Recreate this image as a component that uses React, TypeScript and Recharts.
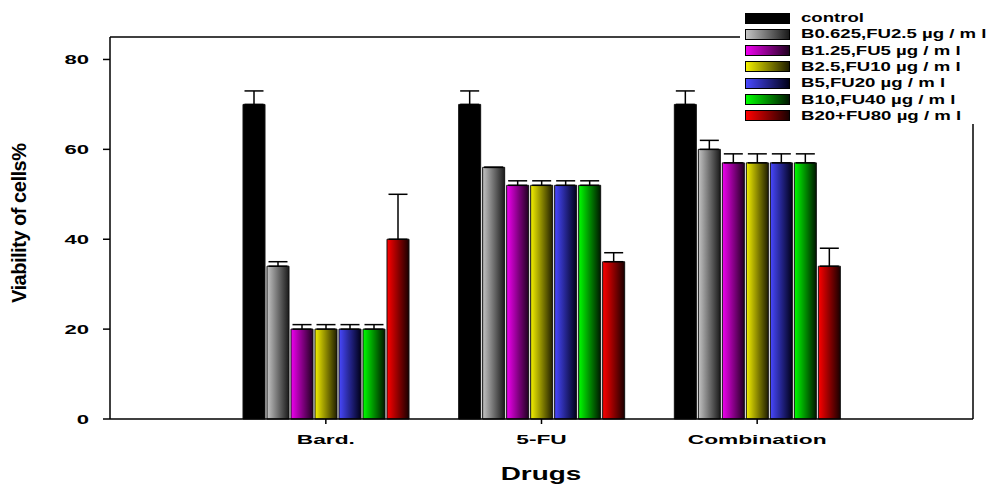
import React from "react";
import { BarChart, Bar, XAxis, YAxis, ErrorBar, Legend } from "recharts";

const categories = ["Bard.", "5-FU", "Combination"];

const control = [70, 70, 70];
const controlErr = [3, 3, 3];
const b0625 = [34, 56, 60];
const b0625Err = [1, 0, 2];
const b125 = [20, 52, 57];
const b125Err = [1, 1, 2];
const b25 = [20, 52, 57];
const b25Err = [1, 1, 2];
const b5 = [20, 52, 57];
const b5Err = [1, 1, 2];
const b10 = [20, 52, 57];
const b10Err = [1, 1, 2];
const b20 = [40, 35, 34];
const b20Err = [10, 2, 4];

const yTicks = [0, 20, 40, 60, 80];

const series = [
    { key: "control", name: "control", values: control, errors: controlErr, from: "#000000", to: "#000000" },
    { key: "b0625", name: "B0.625,FU2.5 \u00b5g / m l", values: b0625, errors: b0625Err, from: "#c4c4c4", to: "#1a1a1a" },
    { key: "b125", name: "B1.25,FU5 \u00b5g / m l", values: b125, errors: b125Err, from: "#f000f0", to: "#200020" },
    { key: "b25", name: "B2.5,FU10 \u00b5g / m l", values: b25, errors: b25Err, from: "#f4f000", to: "#201e00" },
    { key: "b5", name: "B5,FU20 \u00b5g / m l", values: b5, errors: b5Err, from: "#4848ff", to: "#000018" },
    { key: "b10", name: "B10,FU40 \u00b5g / m l", values: b10, errors: b10Err, from: "#00ff00", to: "#001800" },
    { key: "b20", name: "B20+FU80 \u00b5g / m l", values: b20, errors: b20Err, from: "#ff0000", to: "#1a0000" },
];

const data = categories.map((name, i) => {
    const row: any = { name };
    series.forEach((s) => {
        row[s.key] = s.values[i];
        row[s.key + "Err"] = [0, s.errors[i]];
    });
    return row;
});

const FONT = "'Liberation Sans', Arial, sans-serif";

// y tick labels end at x=89, right of them the 7px tick mark
const YTick = ({ y, payload }: any) => (
    <g transform={`translate(89,${y})`}>
        <text x={0} y={0} dy={5} textAnchor="end" fontFamily={FONT} fontWeight="bold" fontSize={13} fill="#000" transform="scale(1.7,1)">
            {payload.value}
        </text>
    </g>
);

const XTick = ({ x, y, payload }: any) => (
    <g transform={`translate(${x},${y})`}>
        <text x={0} y={0} dy={18} textAnchor="middle" fontFamily={FONT} fontWeight="bold" fontSize={13} fill="#000" transform="scale(1.75,1)">
            {payload.value}
        </text>
    </g>
);

const LegendBox = () => (
    <div style={{ position: "relative", width: 250, height: 124, background: "#fff" }}>
        {series.map((s, i) => (
            <div key={s.key} style={{ position: "absolute", left: 5, top: 12 + i * 16.3, height: 12, display: "flex", alignItems: "center" }}>
                <div
                    style={{
                        width: 43,
                        height: 9,
                        border: "1.5px solid #000",
                        background: `linear-gradient(to right, ${s.from}, ${s.to})`,
                    }}
                />
                <span
                    style={{
                        marginLeft: 11,
                        fontFamily: FONT,
                        fontWeight: "bold",
                        fontSize: 12,
                        lineHeight: "12px",
                        whiteSpace: "nowrap",
                        display: "inline-block",
                        transform: "scaleX(1.55)",
                        transformOrigin: "left center",
                    }}
                >
                    {s.name}
                </span>
            </div>
        ))}
    </div>
);

export default function App() {
    return (
        <div style={{ position: "fixed", left: 0, top: 0, width: 990, height: 487, background: "#fff" }}>
            <BarChart
                width={990}
                height={487}
                data={data}
                margin={{ top: 36, right: 16, bottom: 0, left: 0 }}
                barSize={22}
                barGap={2}
            >
                <defs>
                    {series.map((s) => (
                        <linearGradient key={s.key} id={`grad-${s.key}`} x1="0" y1="0" x2="1" y2="0">
                            <stop offset="0%" stopColor={s.from} />
                            <stop offset="100%" stopColor={s.to} />
                        </linearGradient>
                    ))}
                </defs>
                <XAxis
                    dataKey="name"
                    height={68}
                    padding={{ left: 108, right: 108 }}
                    axisLine={{ stroke: "#000", strokeWidth: 1.5 }}
                    tickLine={{ stroke: "#000", strokeWidth: 1.5 }}
                    tickSize={5}
                    tickMargin={2}
                    tick={<XTick />}
                    interval={0}
                    label={{
                        content: () => (
                            <g transform="translate(541,480) scale(1.55,1)">
                                <text x={0} y={0} textAnchor="middle" fontFamily={FONT} fontWeight="bold" fontSize={18} fill="#000">
                                    Drugs
                                </text>
                            </g>
                        ),
                    }}
                />
                <XAxis
                    xAxisId="top"
                    dataKey="name"
                    orientation="top"
                    height={1}
                    tick={false}
                    tickLine={false}
                    axisLine={{ stroke: "#000", strokeWidth: 1.5 }}
                />
                <YAxis
                    width={110}
                    domain={[0, 85]}
                    ticks={yTicks}
                    axisLine={{ stroke: "#000", strokeWidth: 1.5 }}
                    tickLine={{ stroke: "#000", strokeWidth: 1.5 }}
                    tickSize={7}
                    tickMargin={14}
                    tick={<YTick />}
                    label={{
                        content: () => (
                            <text
                                x={0}
                                y={0}
                                transform="translate(26,223) rotate(-90)"
                                textAnchor="middle"
                                fontFamily={FONT}
                                fontWeight="bold"
                                fontSize={20}
                                fill="#000"
                                textLength={160}
                                lengthAdjust="spacing"
                            >
                                Viability of cells%
                            </text>
                        ),
                    }}
                />
                <YAxis
                    yAxisId="right"
                    orientation="right"
                    width={1}
                    domain={[0, 85]}
                    tick={false}
                    tickLine={false}
                    axisLine={{ stroke: "#000", strokeWidth: 1.5 }}
                />
                <Legend
                    layout="vertical"
                    align="center"
                    verticalAlign="middle"
                    wrapperStyle={{ position: "absolute", left: 740, top: 0, width: 250, height: 124 }}
                    content={() => <LegendBox />}
                />
                {series.map((s) => (
                    <Bar
                        key={s.key}
                        dataKey={s.key}
                        name={s.name}
                        fill={`url(#grad-${s.key})`}
                        stroke="#111"
                        strokeWidth={1}
                        isAnimationActive={false}
                    >
                        <ErrorBar dataKey={s.key + "Err"} width={9.5} stroke="#000" strokeWidth={1.5} direction="y" />
                    </Bar>
                ))}
            </BarChart>
        </div>
    );
}
